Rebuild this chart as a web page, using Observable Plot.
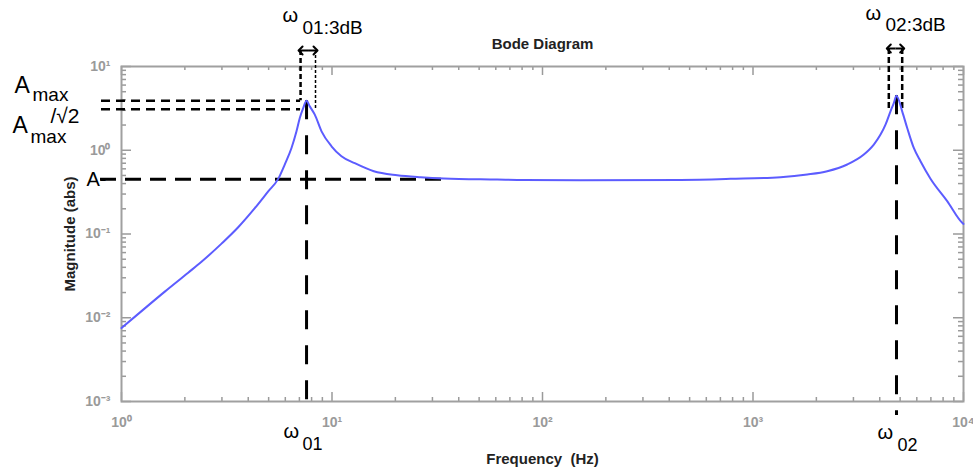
<!DOCTYPE html>
<html><head><meta charset="utf-8">
<script src="https://cdn.jsdelivr.net/npm/d3@7"></script>
<script src="https://cdn.jsdelivr.net/npm/@observablehq/plot@0.6"></script>
<style>body{margin:0;background:#fff} svg{display:block}</style>
</head><body><div id="chart"></div>
<script>
// ---- data ----
const freq = [1, 1.245, 1.606, 2.074, 2.399, 2.987, 3.584, 4.298, 4.977, 5.551, 5.969, 6.421, 6.782, 7.031, 7.297, 7.57, 7.843, 8.284, 8.918, 9.945, 11.09, 12.83, 15.80, 20.40, 26.33, 33.97, 60.93, 81.5, 151.5, 452.3, 781.9, 1351, 1809, 2252, 2803, 3361, 3749, 4035, 4261, 4500, 4666, 4805, 5114, 5402, 5806, 6247, 6969, 8367, 9858, 10000];
const mag = [0.00754, 0.0120, 0.0205, 0.0345, 0.0466, 0.0768, 0.1205, 0.2035, 0.323, 0.455, 0.68, 1.065, 1.683, 2.424, 3.189, 3.9, 3.341, 2.661, 1.683, 1.116, 0.848, 0.70, 0.562, 0.504, 0.477, 0.4604, 0.447, 0.441, 0.438, 0.442, 0.4553, 0.4772, 0.5136, 0.5623, 0.6757, 0.889, 1.169, 1.538, 2.023, 2.913, 3.658, 4.479, 2.913, 1.843, 1.065, 0.7396, 0.4578, 0.2471, 0.1363, 0.132];
const xMajor = [1, 10, 100, 1000, 10000];
const yMajor = [0.001, 0.01, 0.1, 1, 10];
const xMinor = [1, 10, 100, 1000].flatMap(d => [2,3,4,5,6,7,8,9].map(m => d*m));
const yMinor = [0.001, 0.01, 0.1, 1].flatMap(d => [2,3,4,5,6,7,8,9].map(m => d*m));
const omegaF = [7.57, 4805];          // resonance frequencies
const omegaPeak = [3.9, 4.479];       // peak magnitudes
const omegaNames = ["01", "02"];
const f3dB1 = [7.09, 8.35];
const f3dB2 = [4417, 5114];
const amax = 3.9, a3dB = 3.08, aMinus = 0.45, aMinusEnd = 34;

// ---- layout ----
const W = 973, H = 470, mL = 121, mR = 10, mT = 66, mB = 69;
const fw = W - mL - mR, fh = H - mT - mB;
const FONT = "Liberation Sans, Arial, Helvetica, sans-serif";
const sup = {"-":"\u207B","0":"\u2070","1":"\u00B9","2":"\u00B2","3":"\u00B3","4":"\u2074"};
const fmt = d => "10" + String(Math.round(Math.log10(d))).split("").map(c => sup[c]).join("");
const curve = freq.map((f, i) => ({f, a: mag[i]}));
const tk = {stroke: "#9a9a9a", strokeWidth: 1.5};
const lbl = (t, o) => Plot.text([t], {text: d => d, fontFamily: FONT, fill: "#000", lineAnchor: "middle", ...o});
const mid = a => Math.sqrt(a[0] * a[1]);
const arrowPairs = [f3dB1, f3dB2].flatMap((p, k) => [{from: mid(p), to: p[0], k}, {from: mid(p), to: p[1], k}]);

const chart = Plot.plot({
  width: W, height: H,
  marginLeft: mL, marginRight: mR, marginTop: mT, marginBottom: mB,
  style: {fontFamily: FONT, background: "#fff", overflow: "visible"},
  x: {type: "log", domain: [1, 10000]},
  y: {type: "log", domain: [0.001, 10]},
  marks: [
    // minor / major inner ticks
    Plot.ruleX(xMinor, {x: d => d, insetBottom: fh - 4, ...tk}),
    Plot.ruleX(xMinor, {x: d => d, insetTop: fh - 4, ...tk}),
    Plot.ruleX(xMajor, {x: d => d, insetBottom: fh - 9, ...tk}),
    Plot.ruleX(xMajor, {x: d => d, insetTop: fh - 9, ...tk}),
    Plot.ruleY(yMinor, {y: d => d, insetRight: fw - 5, ...tk}),
    Plot.ruleY(yMinor, {y: d => d, insetLeft: fw - 5, ...tk}),
    Plot.ruleY(yMajor, {y: d => d, insetRight: fw - 10, ...tk}),
    Plot.ruleY(yMajor, {y: d => d, insetLeft: fw - 10, ...tk}),
    Plot.frame({stroke: "#a0a0a0", strokeWidth: 2}),
    Plot.axisX({ticks: xMajor, tickFormat: fmt, tickSize: 0, tickPadding: 16, fontSize: 14, fontWeight: "bold", color: "#9a9a9a", label: null}),
    Plot.axisY({ticks: yMajor, tickFormat: fmt, tickSize: 0, tickPadding: 11, fontSize: 14, fontWeight: "bold", color: "#9a9a9a", label: null}),
    // titles
    lbl("Bode Diagram", {frameAnchor: "top", dy: -22, fontSize: 15, fontWeight: "bold", fill: "#222"}),
    lbl("Frequency\u00a0\u00a0(Hz)", {frameAnchor: "bottom", dy: 58, fontSize: 15, fontWeight: "bold", fill: "#222"}),
    lbl("Magnitude\u00a0(abs)", {frameAnchor: "left", dx: -51, rotate: -90, textAnchor: "middle", fontSize: 15, fontWeight: "bold", fill: "#222"}),
    // reference lines
    Plot.ruleY([amax], {y: d => d, x1: 1, x2: f3dB1[0], insetLeft: -20, stroke: "#000", strokeWidth: 2.5, strokeDasharray: "9,6"}),
    Plot.ruleY([a3dB], {y: d => d, x1: 1, x2: f3dB1[0], insetLeft: -20, stroke: "#000", strokeWidth: 2.5, strokeDasharray: "9,6"}),
    Plot.ruleY([aMinus], {y: d => d, x1: 1, x2: aMinusEnd, insetLeft: -21, stroke: "#000", strokeWidth: 3, strokeDasharray: "16,9"}),
    Plot.ruleX(omegaF, {x: d => d, y1: (d, i) => omegaPeak[i], y2: 0.001, insetBottom: -14, stroke: "#000", strokeWidth: 3, strokeDasharray: "19,16"}),
    Plot.ruleX([f3dB1[0]], {x: d => d, y1: 10, y2: amax, insetTop: -16, stroke: "#000", strokeWidth: 2.5, strokeDasharray: "5,3"}),
    Plot.ruleX([f3dB1[1]], {x: d => d, y1: 10, y2: a3dB, insetTop: -16, stroke: "#000", strokeWidth: 1.5, strokeDasharray: "3,2"}),
    Plot.ruleX(f3dB2, {x: d => d, y1: 10, y2: a3dB, insetTop: -18, stroke: "#000", strokeWidth: 2.5, strokeDasharray: "6,3"}),
    Plot.link(arrowPairs, {x1: "from", x2: "to", y1: 10, y2: 10, stroke: "#000", strokeWidth: 2, markerEnd: "arrow",
      filter: d => d.k === 0, dy: -16}),
    Plot.link(arrowPairs, {x1: "from", x2: "to", y1: 10, y2: 10, stroke: "#000", strokeWidth: 2, markerEnd: "arrow",
      filter: d => d.k === 1, dy: -18}),
    // curve
    Plot.line(curve, {x: "f", y: "a", stroke: "#5c5cff", strokeWidth: 2, curve: "monotone-x"}),
    // left labels
    lbl("A", {x: 1, y: amax, dx: -107, dy: -15.5, textAnchor: "start", fontSize: 23}),
    lbl("max", {x: 1, y: amax, dx: -89, dy: -6, textAnchor: "start", fontSize: 19}),
    lbl("A", {x: 1, y: amax, dx: -109, dy: 24.5, textAnchor: "start", fontSize: 23}),
    lbl("max", {x: 1, y: amax, dx: -91, dy: 36, textAnchor: "start", fontSize: 19}),
    lbl("/\u221A2", {x: 1, y: amax, dx: -71, dy: 16, textAnchor: "start", fontSize: 21}),
    lbl("A-", {x: 1, y: aMinus, dx: -15, dy: 0.5, textAnchor: "end", fontSize: 20}),
    // omega labels (top)
    lbl("\u03C9", {x: omegaF[0], frameAnchor: "top", dx: -24, dy: -50.7, textAnchor: "start", fontSize: 20}),
    lbl("01:3dB", {x: omegaF[0], frameAnchor: "top", dx: -4, dy: -38.7, textAnchor: "start", fontSize: 19}),
    lbl("\u03C9", {x: omegaF[1], frameAnchor: "top", dx: -31, dy: -53.2, textAnchor: "start", fontSize: 20}),
    lbl("02:3dB", {x: omegaF[1], frameAnchor: "top", dx: -11, dy: -41.7, textAnchor: "start", fontSize: 19}),
    // omega labels (bottom)
    lbl("\u03C9", {x: omegaF[0], frameAnchor: "bottom", dx: -23, dy: 29.8, textAnchor: "start", fontSize: 20}),
    lbl(omegaNames[0], {x: omegaF[0], frameAnchor: "bottom", dx: -4, dy: 42.7, textAnchor: "start", fontSize: 18}),
    lbl("\u03C9", {x: omegaF[1], frameAnchor: "bottom", dx: -19, dy: 30.8, textAnchor: "start", fontSize: 20}),
    lbl(omegaNames[1], {x: omegaF[1], frameAnchor: "bottom", dx: 1, dy: 43.7, textAnchor: "start", fontSize: 18})
  ]
});
document.getElementById("chart").appendChild(chart);
</script>
</body></html>
